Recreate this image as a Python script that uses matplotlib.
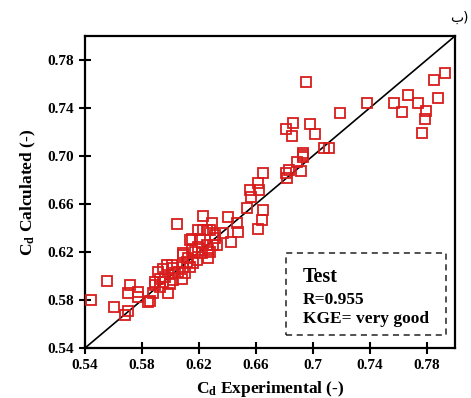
import matplotlib
matplotlib.use("Agg")
import matplotlib.pyplot as plt
from matplotlib.patches import Rectangle

plt.rcParams['font.family'] = ['Liberation Serif', 'DejaVu Sans']
plt.rcParams['font.weight'] = 'bold'
plt.rcParams['mathtext.fontset'] = 'custom'
plt.rcParams['mathtext.rm'] = 'Liberation Serif:bold'
plt.rcParams['mathtext.it'] = 'Liberation Serif:bold'
plt.rcParams['mathtext.bf'] = 'Liberation Serif:bold'

cd_experimental = [
    0.5442, 0.5555, 0.5604, 0.5682, 0.5703, 0.5703, 0.5717, 0.5773, 0.5773, 0.5858,
    0.5879, 0.5893, 0.5928, 0.5985, 0.5999, 0.5928, 0.5914, 0.5963, 0.5977, 0.5949,
    0.6013, 0.6020, 0.6013, 0.6055, 0.6104, 0.6020, 0.6083, 0.6090, 0.6139, 0.6118,
    0.6090, 0.6153, 0.6175, 0.6189, 0.6224, 0.6266, 0.6280, 0.6153, 0.6196, 0.6259,
    0.6301, 0.6210, 0.6196, 0.6231, 0.6280, 0.6315, 0.6294, 0.6231, 0.6372, 0.6428,
    0.6407, 0.6470, 0.6477, 0.6048, 0.6541, 0.6562, 0.6569, 0.6618, 0.6625, 0.6654,
    0.6646, 0.6618, 0.6654, 0.6815, 0.6822, 0.6837, 0.6921, 0.6893, 0.6935, 0.6935,
    0.6935, 0.7076, 0.7118, 0.6865, 0.6815, 0.6858, 0.6984, 0.7013, 0.7189, 0.6956,
    0.7379, 0.7569, 0.7625, 0.7667, 0.7738, 0.7794, 0.7787, 0.7766, 0.7851, 0.7928,
    0.7879, 0.6125, 0.6160, 0.6090, 0.6139, 0.5949, 0.5893, 0.5844, 0.6315, 0.6330,
    0.6259, 0.6266,
]
cd_calculated = [
    0.5800, 0.5958, 0.5742, 0.5675, 0.5708, 0.5858, 0.5925, 0.5867, 0.5825, 0.5792,
    0.5858, 0.5925, 0.5908, 0.5858, 0.5933, 0.5975, 0.6033, 0.5992, 0.6092, 0.6058,
    0.6025, 0.6067, 0.6092, 0.6033, 0.6025, 0.5967, 0.5975, 0.6075, 0.6075, 0.6117,
    0.6192, 0.6217, 0.6200, 0.6133, 0.6192, 0.6150, 0.6200, 0.6308, 0.6242, 0.6258,
    0.6258, 0.6308, 0.6383, 0.6383, 0.6383, 0.6342, 0.6442, 0.6500, 0.6358, 0.6283,
    0.6492, 0.6442, 0.6367, 0.6433, 0.6567, 0.6717, 0.6658, 0.6775, 0.6717, 0.6550,
    0.6467, 0.6392, 0.6858, 0.6858, 0.6817, 0.6883, 0.6875, 0.6950, 0.7025, 0.7008,
    0.6992, 0.7067, 0.7067, 0.7275, 0.7225, 0.7167, 0.7267, 0.7183, 0.7358, 0.7617,
    0.7442, 0.7442, 0.7367, 0.7508, 0.7442, 0.7375, 0.7308, 0.7192, 0.7633, 0.7692,
    0.7483, 0.6150, 0.6108, 0.6175, 0.6300, 0.5950, 0.5950, 0.5783, 0.6317, 0.6258,
    0.6383, 0.6217,
]
ticks = [0.54, 0.58, 0.62, 0.66, 0.70, 0.74, 0.78]
x_tick_labels = ['0.54', '0.58', '0.62', '0.66', '0.7', '0.74', '0.78']
y_tick_labels = ['0.54', '0.58', '0.62', '0.66', '0.70', '0.74', '0.78']
axis_min, axis_max = 0.54, 0.80

fig = plt.figure(figsize=(4.71, 3.98), dpi=100)
ax = fig.add_axes([0.1805, 0.1256, 0.966 - 0.1805, 0.9095 - 0.1256])

ax.plot([axis_min, axis_max], [axis_min, axis_max], color='black', lw=1.2, zorder=2)
ax.plot(cd_experimental, cd_calculated, linestyle='none', marker='s', markersize=7,
        markerfacecolor='none', markeredgecolor='#d81c1c', markeredgewidth=1.3, zorder=3)

ax.set_xlim(axis_min, axis_max)
ax.set_ylim(axis_min, axis_max)
ax.set_xticks(ticks)
ax.set_xticklabels(x_tick_labels)
ax.set_yticks(ticks)
ax.set_yticklabels(y_tick_labels)
ax.tick_params(direction='inout', length=8, width=1.5, labelsize=11, pad=4)
for lbl in ax.get_xticklabels() + ax.get_yticklabels():
    lbl.set_fontweight('bold')
for s in ax.spines.values():
    s.set_linewidth(1.6)

ax.set_xlabel(r'C$_\mathrm{d}$ Experimental (-)', fontsize=12.5, fontweight='bold', labelpad=5)
ax.set_ylabel(r'C$_\mathrm{d}$ Calculated (-)', fontsize=12.5, fontweight='bold', labelpad=7)

box = Rectangle((0.543, 0.042), 0.433, 0.262, transform=ax.transAxes, fill=False,
                edgecolor='#222222', lw=1.1, linestyle=(0, (4, 3)), zorder=4)
ax.add_patch(box)
ax.text(0.588, 0.228, 'Test', transform=ax.transAxes, fontsize=14.5, fontweight='bold',
        va='center', ha='left')
ax.text(0.588, 0.154, 'R=0.955', transform=ax.transAxes, fontsize=12.5, fontweight='bold',
        va='center', ha='left')
ax.text(0.588, 0.094, 'KGE= very good', transform=ax.transAxes, fontsize=12.5, fontweight='bold',
        va='center', ha='left')

fig.text(0.995, 0.955, 'ب)', ha='right', va='center', fontsize=10,
         family=['DejaVu Sans'], fontweight='normal')

fig.savefig('out.png', dpi=100)
